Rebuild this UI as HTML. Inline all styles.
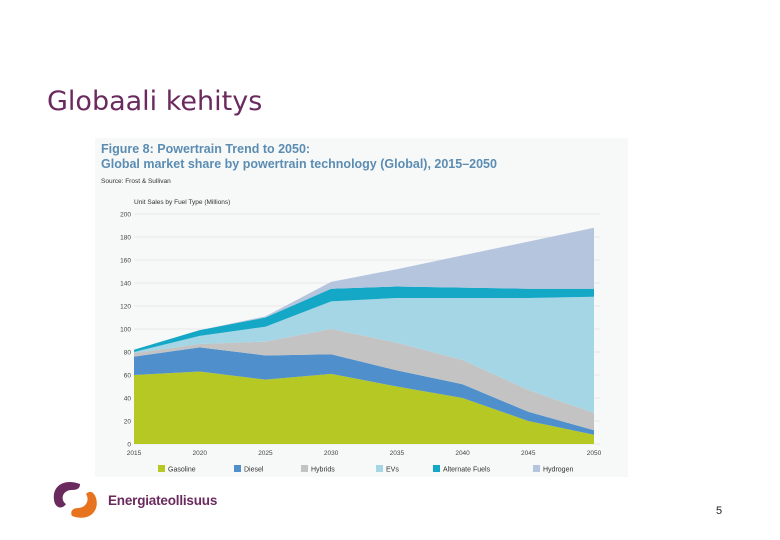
<!DOCTYPE html>
<html><head><meta charset="utf-8"><style>
body{margin:0;width:780px;height:540px;background:#fff;position:relative;overflow:hidden;font-family:"Liberation Sans",sans-serif}
#title{position:absolute;left:47px;top:86px;font-size:27px;font-family:"DejaVu Sans",sans-serif;color:#6b2a5e;margin:0;font-weight:normal}
#box{position:absolute;left:95px;top:138px;width:533px;height:339px;background:#f7f8f8}
#pg{position:absolute;left:716px;top:505px;font-size:11px;color:#222}
#brand{position:absolute;left:108px;top:493px;font-size:13.5px;font-weight:bold;color:#6b2a5e;letter-spacing:-0.2px}
</style></head><body>
<h1 id="title">Globaali kehitys</h1>
<div id="box"></div>
<svg id="chart" width="780" height="540" style="position:absolute;left:0;top:0">
<text x="101" y="153" font-size="12.5" font-weight="bold" fill="#5b8db3">Figure 8:  Powertrain Trend to 2050:</text>
<text x="101" y="168" font-size="12.5" font-weight="bold" fill="#5b8db3">Global market share by powertrain technology (Global), 2015–2050</text>
<text x="101" y="183" font-size="6.5" fill="#333">Source: Frost &amp; Sullivan</text>
<text x="134" y="204" font-size="6.5" fill="#333">Unit Sales by Fuel Type (Millions)</text>
<g id="grid"></g><g id="areas"></g><g id="ticks"></g><g id="legend"></g>
</svg>
<svg style="position:absolute;left:50px;top:478px" width="52" height="44">
<path d="M30 6 C14 0 2 8 4 22 C5 30 12 32 16 26 C10 22 12 12 22 12 C28 12 30 10 30 6Z" fill="#6b2a5e"/>
<path d="M22 38 C38 44 50 34 46 20 C44 14 40 12 36 16 C40 22 36 30 28 30 C22 30 20 34 22 38Z" fill="#e8731e"/>
</svg>
<div id="brand">Energiateollisuus</div>
<div id="pg">5</div>
<script>
const years=[2015,2020,2025,2030,2035,2040,2045,2050];
const gasoline=[60,63,56,61,50,40,20,8];
const diesel=[16,21,21,17,14,12,8,4];
const hybrids=[3,3,12,22,24,21,19,15];
const evs=[1,7,13,24,39,54,80,101];
const altFuels=[2,5,8,11,10,9,8,7];
const hydrogen=[0,0,1,6,15,28,41,53];
const yTicks=[0,20,40,60,80,100,120,140,160,180,200];
const seriesNames=["Gasoline","Diesel","Hybrids","EVs","Alternate Fuels","Hydrogen"];
const series=[gasoline,diesel,hybrids,evs,altFuels,hydrogen];
const colors=["#b5c824","#4f8fcb","#c3c3c3","#a4d6e6","#14a7c6","#b5c5de"];
const X0=134,X1=594,Y0=444,Y1=214;
const x=v=>X0+(v-2015)/35*(X1-X0);
const y=v=>Y0-v/200*(Y0-Y1);
const NS="http://www.w3.org/2000/svg";
function mk(t,a,p){const e=document.createElementNS(NS,t);for(const k in a)e.setAttribute(k,a[k]);p.appendChild(e);return e;}
const grid=document.getElementById('grid'),ticks=document.getElementById('ticks');
yTicks.forEach(t=>{
 const l=mk('line',{x1:X0,x2:X1+6,y1:y(t),y2:y(t),stroke:'#e4e4e4','stroke-width':0.7},grid);
 
 
 const tx=mk('text',{x:X0-3,y:y(t)+2.5,'font-size':6.5,'text-anchor':'end',fill:'#444'},ticks);
 tx.textContent=t;
 
 
});
years.forEach(yr=>{
 const tx=mk('text',{x:x(yr),y:455,'font-size':6.5,'text-anchor':'middle',fill:'#444'},ticks);
 tx.textContent=yr;
 
 
});
const areas=document.getElementById('areas');
let base=years.map(()=>0);
series.forEach((s,i)=>{
 const top=base.map((b,j)=>b+s[j]);
 let d='M'+years.map((yr,j)=>x(yr)+','+y(top[j])).join(' L');
 for(let j=years.length-1;j>=0;j--)d+=' L'+x(years[j])+','+y(base[j]);
 const p=mk('path',{d:d+'Z',fill:colors[i]},areas);
 
 
 base=top;
});
const lg=document.getElementById('legend');
const lx=[158,234,301,376,433,533];
seriesNames.forEach((n,i)=>{
 const r=mk('rect',{x:lx[i],y:465,width:7,height:7,fill:colors[i]},lg);
 
 
 const t=mk('text',{x:lx[i]+10,y:471.5,'font-size':7,fill:'#333'},lg);
 t.textContent=n;
 
 
});
</script>
</body></html>
